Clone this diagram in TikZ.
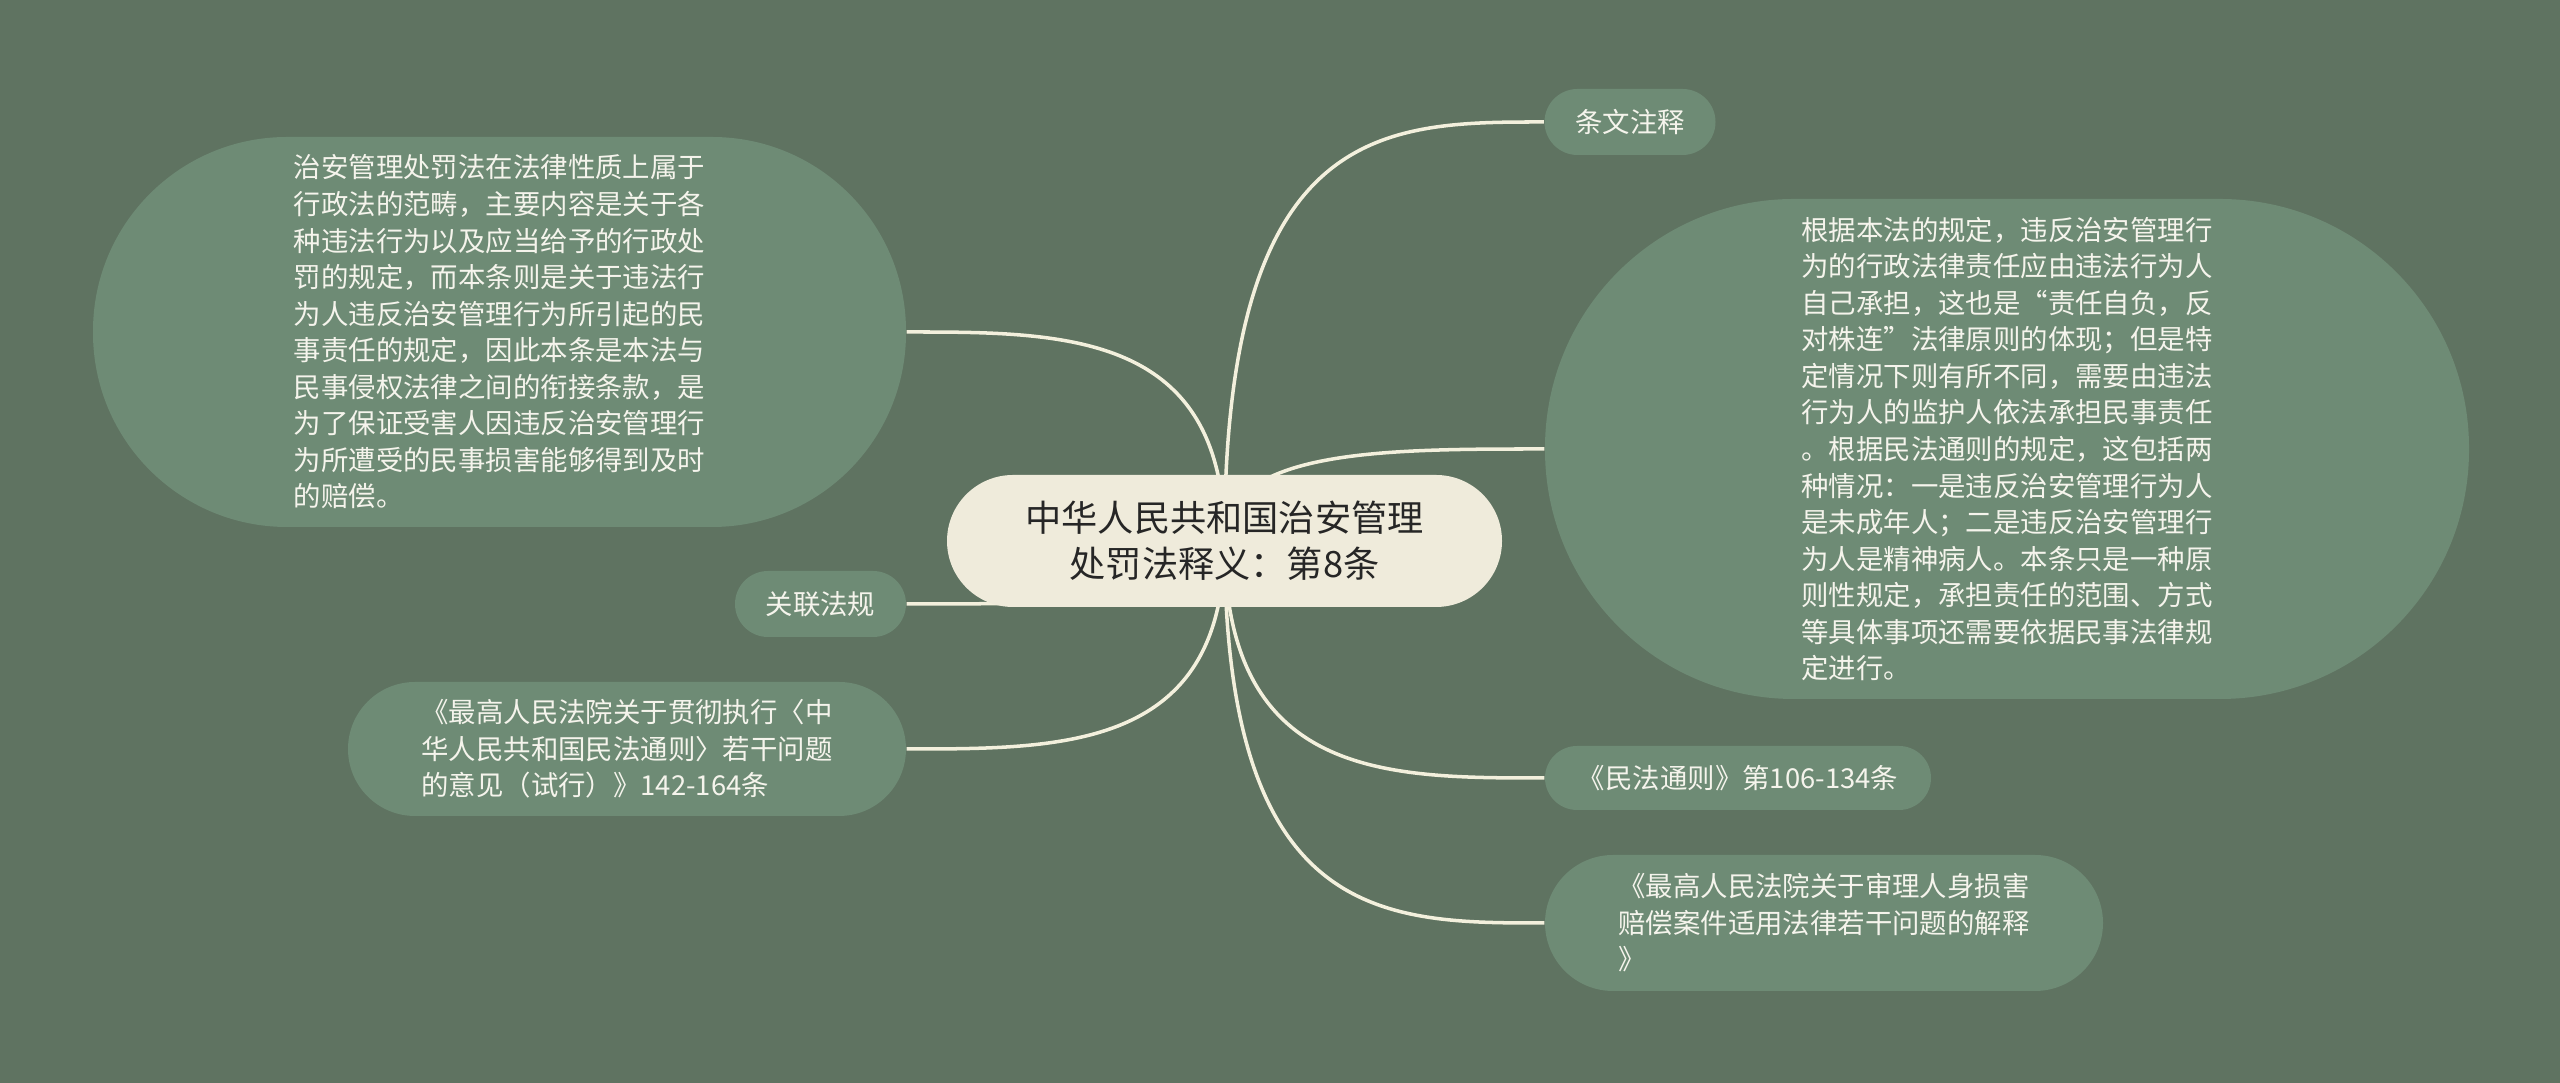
\documentclass[tikz,border=0pt]{standalone}
\usepackage{fontspec}
\setmainfont{Noto Sans CJK SC}
\usetikzlibrary{calc}
\definecolor{xbg}{HTML}{5F7361}
\definecolor{xleaf}{HTML}{6E8B75}
\definecolor{xroot}{HTML}{EFEBDB}
\definecolor{xline}{HTML}{F3F0DD}
\definecolor{xtext}{HTML}{F5F4EC}
\tikzset{
	root/.style={fill=xroot, text=black!85, align=center, inner sep=0pt,
		minimum width=5.55cm, minimum height=1.32cm, rounded corners=0.66cm,
		font=\fontsize{10.3pt}{13pt}\selectfont},
	leaf/.style={fill=xleaf, text=xtext, align=left, inner sep=0pt,
		font=\fontsize{7.8pt}{10.4pt}\selectfont},
	small/.style={leaf, minimum width=1.71cm, minimum height=0.66cm, rounded corners=0.33cm},
	branch/.style={draw=xline, line width=1pt},
}
\pgfdeclarelayer{edges}
\pgfsetlayers{edges,main}

\begin{document}
\begin{tikzpicture}
	\begin{pgfonlayer}{edges}
		\fill[xbg] (0,0) rectangle (25.6,10.83);
	\end{pgfonlayer}
	\useasboundingbox (0,0) rectangle (25.6,10.83);

	\node[root] (R) at (12.245,5.42) {中华人民共和国治安管理\\处罚法释义：第8条};

	% left side
	\node[leaf, minimum width=8.13cm, minimum height=3.9cm, rounded corners=1.94cm] (L1) at (4.995,7.51)
		{治安管理处罚法在法律性质上属于\\行政法的范畴，主要内容是关于各\\种违法行为以及应当给予的行政处\\罚的规定，而本条则是关于违法行\\为人违反治安管理行为所引起的民\\事责任的规定，因此本条是本法与\\民事侵权法律之间的衔接条款，是\\为了保证受害人因违反治安管理行\\为所遭受的民事损害能够得到及时\\的赔偿。};
	\node[small] (L2) at (8.205,4.79) {关联法规};
	\node[leaf, minimum width=5.58cm, minimum height=1.34cm, rounded corners=0.67cm] (L3) at (6.27,3.34)
		{《最高人民法院关于贯彻执行〈中\\华人民共和国民法通则〉若干问题\\的意见（试行）》142-164条};

	% right side
	\node[small] (R1) at (16.30,9.61) {条文注释};
	\node[leaf, minimum width=9.24cm, minimum height=5.0cm, rounded corners=2.49cm] (R2) at (20.07,6.34)
		{根据本法的规定，违反治安管理行\\为的行政法律责任应由违法行为人\\自己承担，这也是“责任自负，反\\对株连”法律原则的体现；但是特\\定情况下则有所不同，需要由违法\\行为人的监护人依法承担民事责任\\。根据民法通则的规定，这包括两\\种情况：一是违反治安管理行为人\\是未成年人；二是违反治安管理行\\为人是精神病人。本条只是一种原\\则性规定，承担责任的范围、方式\\等具体事项还需要依据民事法律规\\定进行。};
	\node[leaf, minimum width=3.86cm, minimum height=0.64cm, rounded corners=0.32cm] (R3) at (17.38,3.05)
		{《民法通则》第106-134条};
	\node[leaf, minimum width=5.58cm, minimum height=1.36cm, rounded corners=0.68cm] (R4) at (18.24,1.60)
		{《最高人民法院关于审理人身损害\\赔偿案件适用法律若干问题的解释\\》};

	\begin{pgfonlayer}{edges}
		\draw[branch] (R.center) .. controls (R.center |- L1.east) and ($(R.center |- L1.east)!.5!(L1.east)$) .. (L1.east);
		\draw[branch] (R.center) .. controls (R.center |- L2.east) and ($(R.center |- L2.east)!.5!(L2.east)$) .. (L2.east);
		\draw[branch] (R.center) .. controls (R.center |- L3.east) and ($(R.center |- L3.east)!.5!(L3.east)$) .. (L3.east);
		\draw[branch] (R.center) .. controls (R.center |- R1.west) and ($(R.center |- R1.west)!.5!(R1.west)$) .. (R1.west);
		\draw[branch] (R.center) .. controls (R.center |- R2.west) and ($(R.center |- R2.west)!.5!(R2.west)$) .. (R2.west);
		\draw[branch] (R.center) .. controls (R.center |- R3.west) and ($(R.center |- R3.west)!.5!(R3.west)$) .. (R3.west);
		\draw[branch] (R.center) .. controls (R.center |- R4.west) and ($(R.center |- R4.west)!.5!(R4.west)$) .. (R4.west);
	\end{pgfonlayer}
\end{tikzpicture}
\end{document}
